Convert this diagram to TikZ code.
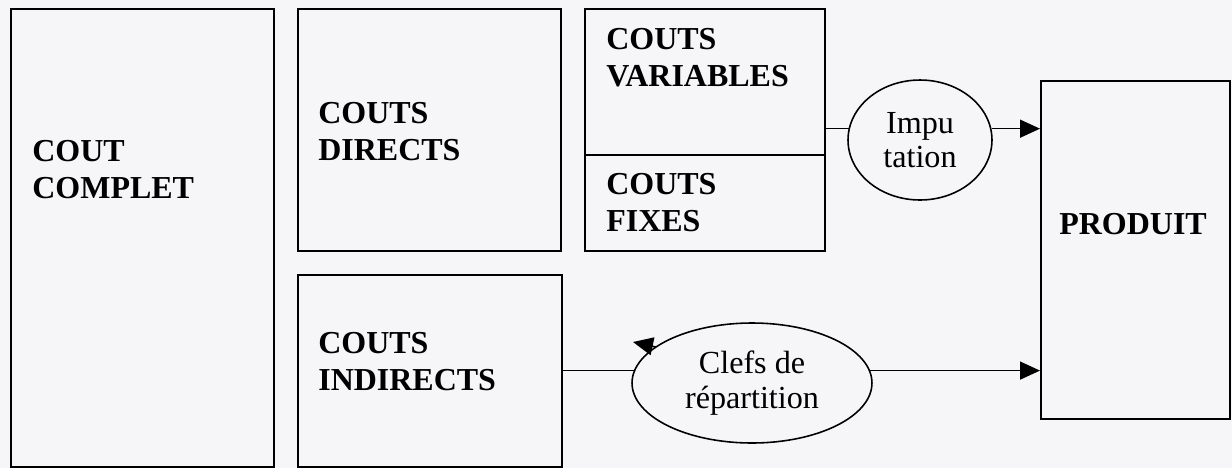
\documentclass[tikz,border=0pt]{standalone}
\usepackage{fontspec}
\setmainfont{Liberation Serif}
\usetikzlibrary{shapes, arrows.meta}
\definecolor{papier}{RGB}{246,246,248}
\tikzstyle{bloc} = [rectangle, draw=black, line width=0.9pt, anchor=north west, inner sep=0pt]
\tikzstyle{titre} = [anchor=north west, inner sep=0pt, align=left, font=\fontsize{18.2}{21}\selectfont\bfseries]
\tikzstyle{bulle} = [ellipse, draw=black, line width=0.9pt, inner sep=0pt, align=center, font=\fontsize{18.3}{19.5}\selectfont]
\tikzstyle{ligne} = [line width=0.9pt]
\tikzstyle{arrow} = [line width=0.9pt, -{Triangle[length=0.4cm, width=0.36cm]}]

\begin{document}
\begin{tikzpicture}[x=0.02cm, y=-0.02cm]
    \fill[papier] (0,0) rectangle (1232,468);
    \useasboundingbox (0,0) rectangle (1232,468);

    % les blocs
    \node (complet) [bloc, minimum width=5.26cm, minimum height=9.16cm] at (10,8) {};
    \node (directs) [bloc, minimum width=5.26cm, minimum height=4.84cm] at (297,8) {};
    \node (indirects) [bloc, minimum width=5.28cm, minimum height=3.84cm] at (297,274) {};
    \node (variables) [bloc, minimum width=4.8cm, minimum height=2.92cm] at (584,8) {};
    \node (fixes) [bloc, minimum width=4.8cm, minimum height=1.92cm] at (584,154) {};
    \node (produit) [bloc, minimum width=3.78cm, minimum height=6.76cm] at (1040,80) {};

    % les textes
    \node (complettxt) [titre] at (32,140) {COUT\\COMPLET};
    \node (directstxt) [titre] at (318,102) {COUTS\\DIRECTS};
    \node (indirectstxt) [titre] at (318,332) {COUTS\\INDIRECTS};
    \node (variablestxt) [titre] at (606,28) {COUTS\\VARIABLES};
    \node (fixestxt) [titre] at (606,173) {COUTS\\FIXES};
    \node (produittxt) [titre] at (1059,213) {PRODUIT};

    % les bulles
    \node (imputation) [bulle, minimum width=2.88cm, minimum height=2.4cm] at (920,140) {Impu\\tation};
    \node (clefs) [bulle, minimum width=4.8cm, minimum height=2.4cm] at (752,383) {Clefs de\\répartition};
    \coordinate (depart) at (656,347);
    \coordinate (retour) at (633,342);

    \draw [ligne] (imputation.171 -| variables.east) -- (imputation.171);
    \draw [arrow] (imputation.9) -- (imputation.9 -| produit.west);
    \draw [ligne] (clefs.174 -| indirects.east) -- (clefs.174);
    \draw [arrow] (clefs.6) -- (clefs.6 -| produit.west);
    \draw [arrow] (depart) -- (retour);
\end{tikzpicture}
\end{document}
